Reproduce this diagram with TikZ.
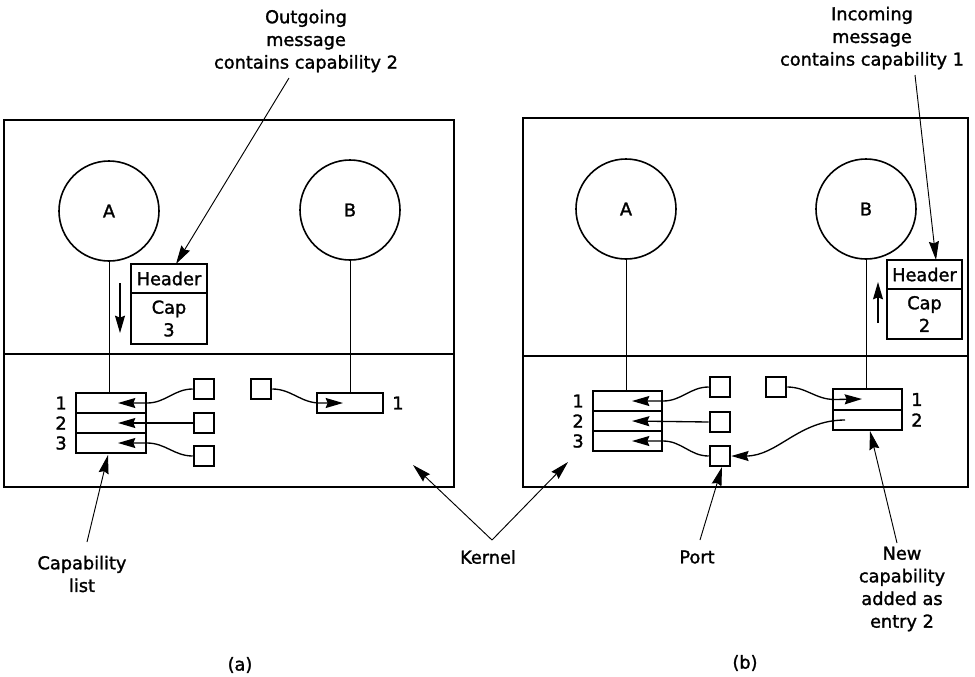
\documentclass[tikz,border=0pt]{standalone}
\usepackage{fontspec}
\setmainfont{DejaVu Sans}[FakeBold=1.5]
\usetikzlibrary{arrows.meta,fit}
\begin{document}
\begin{tikzpicture}[x=0.75pt,y=-0.75pt,
  lbl/.style={font=\fontsize{13.3}{17}\selectfont, inner sep=0pt, align=center},
  frame/.style={draw, line width=1.5pt, inner sep=0pt},
  boxf/.style={draw, line width=1.5pt, inner sep=0pt},
  sqbox/.style={draw, line width=1.4pt, inner sep=0pt, minimum width=15.5pt, minimum height=15pt},
  msgbox/.style={draw, line width=1.5pt, inner sep=0pt, align=center, font=\fontsize{13.3}{17}\selectfont},
  proc/.style={draw, circle, line width=1.2pt, minimum size=75pt, inner sep=0pt, font=\fontsize{13.3}{17}\selectfont},
  wire/.style={line width=0.6pt},
  arr/.style={line width=1pt, -{Stealth[length=13pt,width=7.5pt,inset=1.5pt]}},
  ptr/.style={line width=0.7pt, -{Stealth[length=14pt,width=7.5pt,inset=1.5pt]}},
]
\useasboundingbox (0,0) rectangle (975,676);

% ================= panel (a) =================
\node[frame, fit={(4,120) (454,487)}] (frameA) {};
\coordinate (divA) at (0,354);
\draw[line width=1.5pt] (frameA.west |- divA) -- (frameA.east |- divA);

\node[proc] (pA) at (109,211) {A};
\node[proc] (pB) at (350,210) {B};

\node[boxf, fit={(76,393) (146,413)}] (rA1) {};
\node[boxf, fit={(76,413) (146,433)}] (rA2) {};
\node[boxf, fit={(76,433) (146,453)}] (rA3) {};
\node[lbl, anchor=east] (nA1) at ([xshift=-6pt]rA1.west) {1};
\node[lbl, anchor=east] (nA2) at ([xshift=-6pt]rA2.west) {2};
\node[lbl, anchor=east] (nA3) at ([xshift=-6pt]rA3.west) {3};

\node[boxf, fit={(317,393) (383,413)}] (rB1) {};
\node[lbl, anchor=west] (nB1) at ([xshift=6pt]rB1.east) {1};

\draw[wire] (pA.south) -- (pA.south |- rA1.north);
\draw[wire] (pB.south) -- (pB.south |- rB1.north);

\node[sqbox] (sA1) at (204,389) {};
\node[sqbox] (sA2) at (204,423) {};
\node[sqbox] (sA3) at (204,456) {};
\node[sqbox] (sA4) at (261,389) {};

\coordinate (tA1) at (118,403);
\coordinate (tA2) at (118,423);
\coordinate (tA3) at (118,443);
\coordinate (tB1) at (343,403);
\draw[arr] (sA1.west) to[out=180,in=0] (rA1.east) -- (tA1);
\draw[arr] (sA2.west) -- (tA2);
\draw[arr] (sA3.west) to[out=180,in=0] (rA3.east) -- (tA3);
\draw[arr] (sA4.east) to[out=0,in=180] ([xshift=3pt]rB1.west) -- (tB1);

\node[msgbox, minimum width=57pt, minimum height=21.75pt] (hdrA) at (169,278.5) {Header};
\node[msgbox, minimum width=57pt, minimum height=38.25pt] (capA) at (169,318.5) {Cap\\3};
\coordinate (mA1) at (120,283);
\coordinate (mA2) at (120,333);
\draw[arr] (mA1) -- (mA2);

\node[lbl] (outg) at (306,41) {Outgoing\\message\\contains capability 2};
\coordinate (outgS) at (289,78);
\coordinate (hdrAt) at (176,264);
\draw[ptr] (outgS) -- (hdrAt);

\node[lbl] (capl) at (82,574) {Capability\\list};
\coordinate (caplS) at (87,542);
\coordinate (caplT) at (108,455);
\draw[ptr] (caplS) -- (caplT);

\node[lbl] (kern) at (488,557) {Kernel};
\coordinate (kJ) at (492,540);
\coordinate (kTA) at (413,465);
\coordinate (kTB) at (568,462);
\draw[ptr] (kJ) -- (kTA);
\draw[ptr] (kJ) -- (kTB);

\node[lbl] (capa) at (240,665) {(a)};

% ================= panel (b) =================
\node[frame, fit={(523,118) (968,487)}] (frameB) {};
\coordinate (divB) at (0,356);
\draw[line width=1.5pt] (frameB.west |- divB) -- (frameB.east |- divB);

\node[proc] (qA) at (626,209) {A};
\node[proc] (qB) at (866,209) {B};

\node[boxf, fit={(593,391) (662,411)}] (sB1) {};
\node[boxf, fit={(593,411) (662,431)}] (sB2) {};
\node[boxf, fit={(593,431) (662,451)}] (sB3) {};
\node[lbl, anchor=east] (mB1) at ([xshift=-6pt]sB1.west) {1};
\node[lbl, anchor=east] (mB2) at ([xshift=-6pt]sB2.west) {2};
\node[lbl, anchor=east] (mB3) at ([xshift=-6pt]sB3.west) {3};

\node[boxf, fit={(833,389) (902,410)}] (uB1) {};
\node[boxf, fit={(833,410) (902,430)}] (uB2) {};
\node[lbl, anchor=west] (oB1) at ([xshift=6pt]uB1.east) {1};
\node[lbl, anchor=west] (oB2) at ([xshift=6pt]uB2.east) {2};

\draw[wire] (qA.south) -- (qA.south |- sB1.north);
\draw[wire] (qB.south) -- (qB.south |- uB1.north);

\node[sqbox] (qs1) at (720,387) {};
\node[sqbox] (qs2) at (720,422) {};
\node[sqbox] (port) at (720,456) {};
\node[sqbox] (qs4) at (776,387) {};

\coordinate (uA1) at (632,401);
\coordinate (uA2) at (632,421);
\coordinate (uA3) at (632,441);
\coordinate (uT1) at (862,399);
\coordinate (uS2) at (845,420);
\draw[arr] (qs1.west) to[out=180,in=0] (sB1.east) -- (uA1);
\draw[arr] (qs2.west) -- (uA2);
\draw[arr] (port.west) to[out=180,in=0] (sB3.east) -- (uA3);
\draw[arr] (qs4.east) to[out=0,in=180] ([xshift=2pt]uB1.west) -- (uT1);
\draw[arr] (uS2) to[out=180,in=0] (port.east);

\node[msgbox, minimum width=56.25pt, minimum height=21.75pt] (hdrB) at (924.5,274.5) {Header};
\node[msgbox, minimum width=56.25pt, minimum height=37.5pt] (capB) at (924.5,314) {Cap\\2};
\coordinate (mB1s) at (878,323);
\coordinate (mB1e) at (878,282);
\draw[arr] (mB1s) -- (mB1e);

\node[lbl] (inc) at (872,38) {Incoming\\message\\contains capability 1};
\coordinate (incS) at (915,75);
\coordinate (hdrBt) at (936,260);
\draw[ptr] (incS) -- (hdrBt);

\node[lbl] (portl) at (697,557) {Port};
\coordinate (portS) at (700,540);
\coordinate (portT) at (722,467);
\draw[ptr] (portS) -- (portT);

\node[lbl] (newc) at (902,589) {New\\capability\\added as\\entry 2};
\coordinate (newS) at (897,543);
\coordinate (newT) at (870,431);
\draw[ptr] (newS) -- (newT);

\node[lbl] (capb) at (745,663) {(b)};
\end{tikzpicture}
\end{document}
